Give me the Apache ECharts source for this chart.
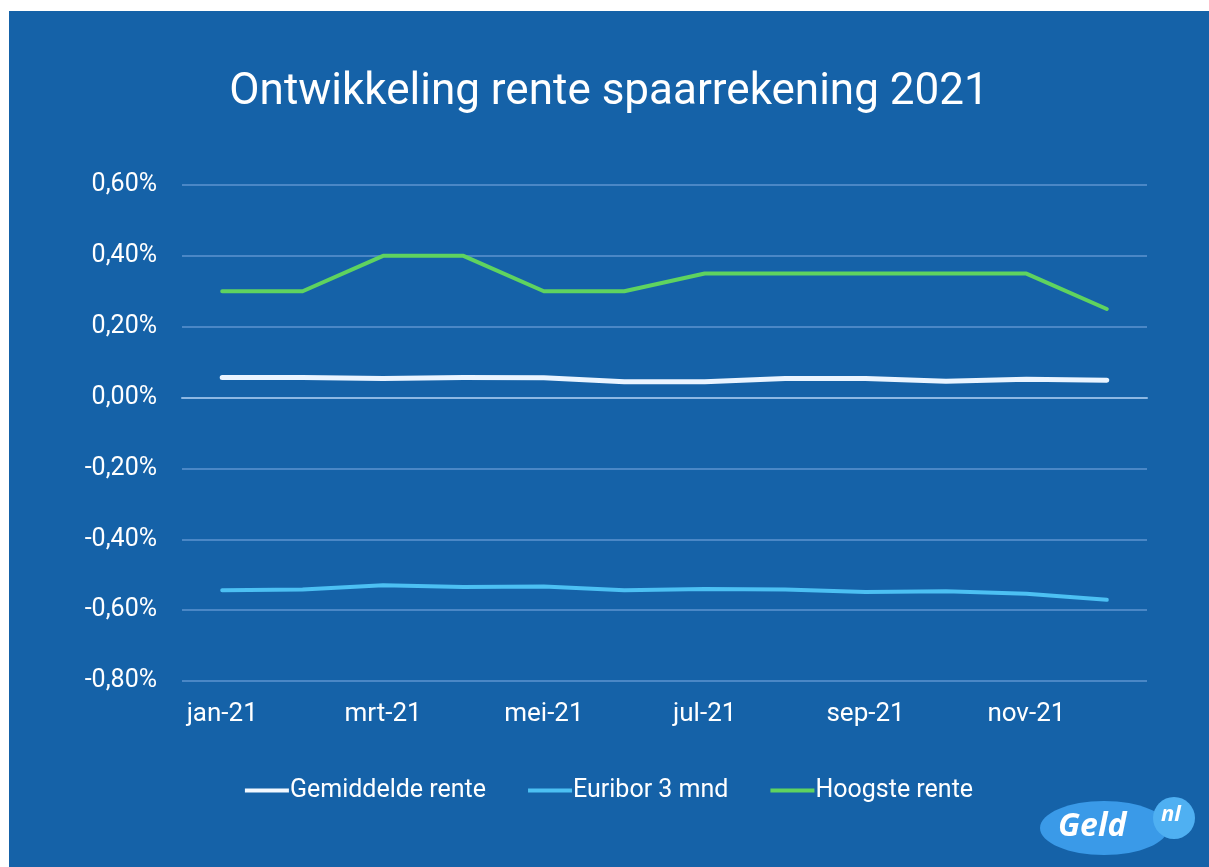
<!DOCTYPE html>
<html>
<head>
<meta charset="utf-8">
<script src="https://cdn.jsdelivr.net/npm/echarts@6/dist/echarts.min.js"></script>
<style>
  html, body { margin: 0; padding: 0; background: #fff; }
  #chart { position: absolute; left: 9px; top: 11px; width: 1200px; height: 856px; background: #1562a8; }
</style>
</head>
<body>
<div id="chart"></div>
<script>
// maanden
const months = ['jan-21', 'feb-21', 'mrt-21', 'apr-21', 'mei-21', 'jun-21',
  'jul-21', 'aug-21', 'sep-21', 'okt-21', 'nov-21', 'dec-21']
// rente in procenten
const gemiddelde = [0.057, 0.057, 0.054, 0.057, 0.056, 0.045, 0.045, 0.054, 0.054, 0.046, 0.052, 0.049]
const euribor = [-0.544, -0.542, -0.530, -0.535, -0.533, -0.544, -0.540, -0.542, -0.549, -0.547, -0.554, -0.571]
const hoogste = [0.30, 0.30, 0.40, 0.40, 0.30, 0.30, 0.35, 0.35, 0.35, 0.35, 0.35, 0.25]

const font = 'Roboto, "Noto Sans", sans-serif'
const fmt = (v) => v.toFixed(2).replace('.', ',') + '%'

const chart = echarts.init(document.getElementById('chart'))
chart.setOption({
  backgroundColor: '#1562a8',
  title: {
    text: 'Ontwikkeling rente spaarrekening 2021',
    left: 'center',
    top: 55,
    textStyle: { color: '#fff', fontSize: 44, fontWeight: 'normal', fontFamily: font },
  },
  grid: { left: 173, right: 62, top: 174, bottom: 186 },
  legend: {
    bottom: 59,
    left: 'center',
    icon: 'rect',
    itemWidth: 44,
    itemHeight: 4,
    itemGap: 42,
    textStyle: { color: '#fff', fontSize: 25, fontFamily: font, padding: [0, 0, 0, -4] },
    data: ['Gemiddelde rente', 'Euribor 3 mnd', 'Hoogste rente'],
  },
  xAxis: {
    type: 'category',
    data: months,
    boundaryGap: true,
    axisTick: { show: false },
    axisLine: { lineStyle: { color: '#8db8e3', width: 2 } },
    axisLabel: { interval: 1, color: '#fff', fontSize: 26, fontFamily: font, margin: 20 },
  },
  yAxis: {
    type: 'value',
    min: -0.8,
    max: 0.6,
    interval: 0.2,
    axisLine: { show: false },
    axisTick: { show: false },
    splitLine: { lineStyle: { color: '#4a87c6', width: 2 } },
    axisLabel: { color: '#fff', fontSize: 25, fontFamily: font, margin: 25, formatter: fmt },
  },
  series: [
    {
      name: 'Gemiddelde rente',
      type: 'line',
      data: gemiddelde,
      symbol: 'none',
      color: '#f2f8ff',
      lineStyle: { width: 5, color: '#eaf4ff', cap: 'round', join: 'round' },
    },
    {
      name: 'Euribor 3 mnd',
      type: 'line',
      data: euribor,
      symbol: 'none',
      color: '#4cc0f3',
      lineStyle: { width: 4, color: '#4cc0f3', cap: 'round', join: 'round' },
    },
    {
      name: 'Hoogste rente',
      type: 'line',
      data: hoogste,
      symbol: 'none',
      color: '#5fd35f',
      lineStyle: { width: 4, color: '#5fd35f', cap: 'round', join: 'round' },
    },
  ],
  graphic: [
    {
      type: 'group',
      right: 14,
      bottom: 12,
      children: [
        {
          type: 'ellipse',
          shape: { cx: 68, cy: 32, rx: 64, ry: 27 },
          style: { fill: '#3a9ae8' },
        },
        {
          type: 'circle',
          shape: { cx: 138, cy: 22, r: 21 },
          style: { fill: '#4fb0f2' },
        },
        {
          type: 'text',
          x: 22,
          y: 15,
          style: { text: 'Geld', fill: '#fff', font: 'italic bold 32px "Open Sans", sans-serif' },
        },
        {
          type: 'text',
          x: 125,
          y: 8,
          style: { text: 'nl', fill: '#fff', font: 'italic bold 22px "Open Sans", sans-serif' },
        },
      ],
    },
  ],
})
</script>
</body>
</html>
